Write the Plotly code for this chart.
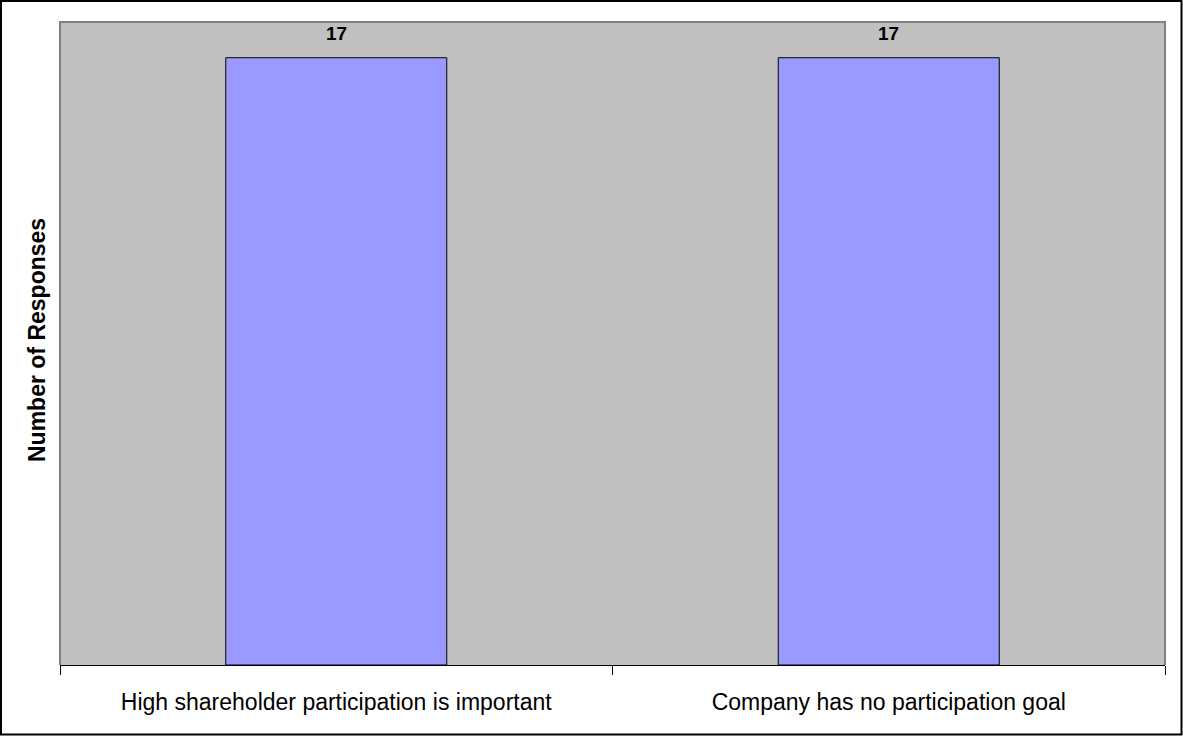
import plotly.graph_objects as go

# Survey responses per answer
categories = ["High shareholder participation is important", "Company has no participation goal"]
responses = [17, 17]
axis_title = "Number of Responses"

W, H = 1183, 736
ML, MR, MT, MB = 60, 18, 22, 71
PW, PH = W - ML - MR, H - MT - MB
FONT = "Arial, Liberation Sans, sans-serif"


def px_x(p):
    return (p - ML) / PW


def px_y(p):
    return 1 - (p - MT) / PH


fig = go.Figure()
fig.add_trace(go.Bar(
    x=categories,
    y=responses,
    width=0.4,
    marker=dict(color="#9999FF", line=dict(color="#000000", width=1)),
    hoverinfo="x+y",
))

# value labels above each bar
for c, v in zip(categories, responses):
    fig.add_annotation(
        x=c, y=v, text=f"<b>{v}</b>", showarrow=False,
        yanchor="bottom", yshift=12,
        font=dict(family=FONT, size=19, color="#000000"),
    )

# vertical axis title
fig.add_annotation(
    xref="paper", yref="paper", x=px_x(37), y=px_y(340),
    text=f"<b>{axis_title}</b>", textangle=-90, showarrow=False,
    xanchor="center", yanchor="middle",
    font=dict(family=FONT, size=23, color="#000000"),
)

shapes = [
    # plot-area frame (left, top, right)
    dict(type="path", xref="paper", yref="paper",
         path="M 0 0 L 0 1 L 1 1 L 1 0",
         line=dict(color="#808080", width=2), layer="above"),
    # outer chart border
    dict(type="rect", xref="paper", yref="paper",
         x0=px_x(1), x1=px_x(W - 1.5), y0=px_y(H - 1.5), y1=px_y(1),
         line=dict(color="#000000", width=2), layer="above"),
]

fig.update_layout(
    width=W, height=H,
    margin=dict(l=ML, r=MR, t=MT, b=MB),
    paper_bgcolor="#FFFFFF",
    plot_bgcolor="#C0C0C0",
    showlegend=False,
    shapes=shapes,
    font=dict(family=FONT, color="#000000"),
    xaxis=dict(
        type="category",
        tickson="boundaries",
        ticks="outside", ticklen=9, tickcolor="#000000", tickwidth=1,
        showline=True, linecolor="#000000", linewidth=1,
        showgrid=False, zeroline=False,
        tickfont=dict(size=23, color="#000000"),
        ticklabelstandoff=16,
        range=[-0.5, 1.5],
    ),
    yaxis=dict(
        range=[0, 18],
        showticklabels=False, showgrid=False, zeroline=False, ticks="",
        showline=False,
    ),
)

fig.write_html("out.html")
